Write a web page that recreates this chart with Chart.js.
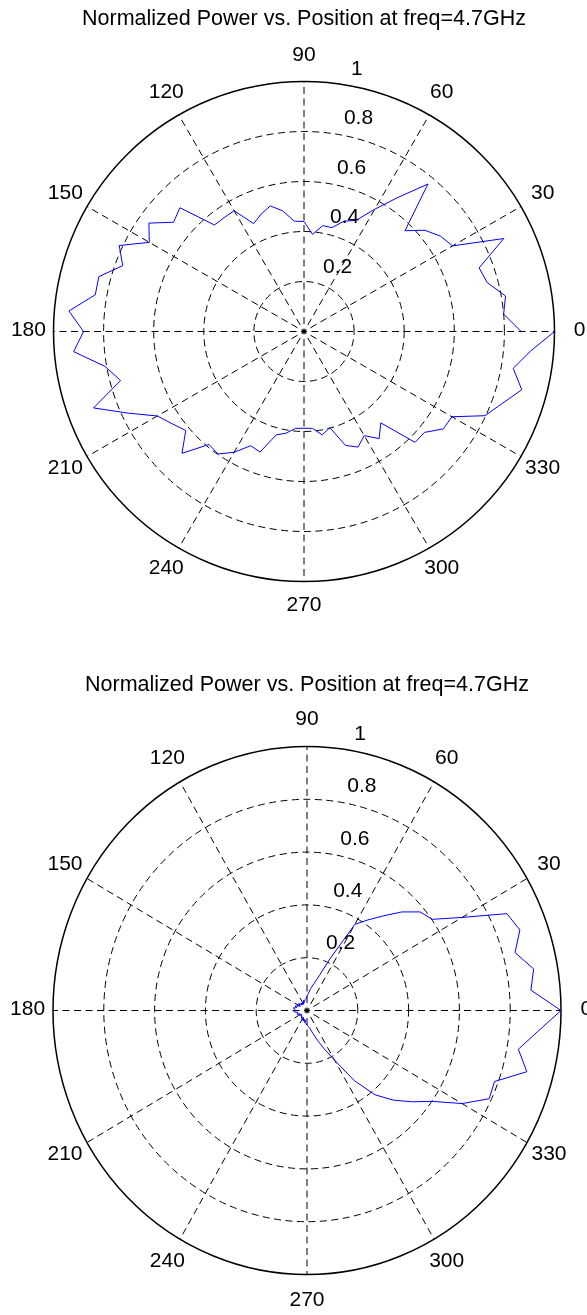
<!DOCTYPE html>
<html>
<head>
<meta charset="utf-8">
<script src="https://cdn.jsdelivr.net/npm/chart.js@4"></script>
<style>
  body { margin: 0; background: #fff; }
  canvas { display: block; }
</style>
</head>
<body>
<canvas id="topPlot" width="587" height="660"></canvas>
<canvas id="bottomPlot" width="587" height="655"></canvas>
<script>
// measurement positions, degrees
const angles = [
  0, 5, 10, 15, 20, 25, 30, 35, 40, 45, 50, 55, 60, 65, 70, 75, 80, 85,
  90, 95, 100, 105, 110, 115, 120, 125, 130, 135, 140, 145, 150, 155, 160, 165, 170, 175,
  180, 185, 190, 195, 200, 205, 210, 215, 220, 225, 230, 235, 240, 245, 250, 255, 260, 265,
  270, 275, 280, 285, 290, 295, 300, 305, 310, 315, 320, 325, 330, 335, 340, 345, 350, 355, 360
];

// normalized power, first sweep
const topPower = [
  0.867, 0.800, 0.817, 0.757, 0.744, 0.880, 0.685, 0.665, 0.630, 0.570, 0.770, 0.655, 0.565, 0.490, 0.470, 0.430, 0.430, 0.390,
  0.440, 0.443, 0.490, 0.520, 0.500, 0.476, 0.558, 0.556, 0.556, 0.700, 0.680, 0.756, 0.713, 0.814, 0.770, 0.848, 0.846, 0.942,
  0.880, 0.923, 0.806, 0.758, 0.894, 0.773, 0.676, 0.643, 0.616, 0.689, 0.590, 0.598, 0.558, 0.504, 0.513, 0.428, 0.413, 0.389,
  0.387, 0.389, 0.420, 0.398, 0.485, 0.510, 0.481, 0.523, 0.477, 0.627, 0.628, 0.679, 0.682, 0.797, 0.842, 0.900, 0.848, 0.907, 1.000
];

// normalized power, second sweep
const bottomPower = [
  1.000, 0.885, 0.906, 0.848, 0.892, 0.868, 0.705, 0.602, 0.581, 0.528, 0.468, 0.419, 0.377, 0.220, 0.140, 0.105, 0.085, 0.065,
  0.055, 0.045, 0.042, 0.036, 0.040, 0.030, 0.034, 0.028, 0.036, 0.030, 0.042, 0.034, 0.045, 0.038, 0.050, 0.042, 0.055, 0.048,
  0.047, 0.052, 0.040, 0.036, 0.042, 0.030, 0.034, 0.026, 0.032, 0.028, 0.034, 0.033, 0.038, 0.032, 0.042, 0.036, 0.046, 0.050,
  0.055, 0.061, 0.070, 0.090, 0.120, 0.160, 0.217, 0.324, 0.417, 0.480, 0.538, 0.600, 0.705, 0.791, 0.786, 0.896, 0.845, 0.912, 1.000
];

const ringValues = [0.2, 0.4, 0.6, 0.8, 1];
const ringLabels = ['0.2', '0.4', '0.6', '0.8', '1'];
const spokeAngles = [0, 30, 60, 90, 120, 150, 180, 210, 240, 270, 300, 330];
const spokeLabels = ['0', '30', '60', '90', '120', '150', '180', '210', '240', '270', '300', '330'];
const plotTitle = 'Normalized Power vs. Position at freq=4.7GHz';

const FONT = "'Liberation Sans', Arial, sans-serif";
const DEG = Math.PI / 180;

function toXY(deg, r) {
  return { x: r * Math.cos(deg * DEG), y: r * Math.sin(deg * DEG) };
}

// MATLAB-style polar frame: dashed rings and spokes, solid rim, labels
const polarFrame = {
  id: 'polarFrame',
  beforeDatasetsDraw(chart) {
    const { ctx, scales: { x, y } } = chart;
    const cx = x.getPixelForValue(0), cy = y.getPixelForValue(0);
    const rx = x.getPixelForValue(1) - cx, ry = cy - y.getPixelForValue(1);
    ctx.save();
    ctx.strokeStyle = '#000';
    ctx.lineWidth = 1;
    ctx.setLineDash([7, 4.5]);
    ringValues.slice(0, -1).forEach(v => {
      ctx.beginPath();
      ctx.ellipse(cx, cy, rx * v, ry * v, 0, 0, -2 * Math.PI, true);
      ctx.stroke();
    });
    ctx.lineDashOffset = 4;
    spokeAngles.forEach(a => {
      ctx.beginPath();
      ctx.moveTo(cx, cy);
      ctx.lineTo(x.getPixelForValue(Math.cos(a * DEG)), y.getPixelForValue(Math.sin(a * DEG)));
      ctx.stroke();
    });
    ctx.setLineDash([]);
    ctx.lineWidth = 1.5;
    ctx.beginPath();
    ctx.ellipse(cx, cy, rx, ry, 0, 0, 2 * Math.PI);
    ctx.stroke();
    ctx.restore();
  },
  afterDraw(chart, args, opts) {
    const { ctx, scales: { x, y } } = chart;
    const cx = x.getPixelForValue(0);
    ctx.save();
    ctx.fillStyle = '#000';
    ctx.font = '21px ' + FONT;

    // angle labels at 1.1 * rmax
    ctx.textAlign = 'center';
    ctx.textBaseline = 'middle';
    spokeAngles.forEach((a, i) => {
      const px = x.getPixelForValue(1.1 * Math.cos(a * DEG));
      const py = y.getPixelForValue(1.1 * Math.sin(a * DEG));
      ctx.fillText(spokeLabels[i], px, py - 1);
    });

    // ring labels along the 82 degree ray
    ctx.textAlign = 'left';
    ctx.textBaseline = 'alphabetic';
    ringValues.forEach((v, i) => {
      const r = v + 0.01;
      const px = x.getPixelForValue(r * Math.cos(82 * DEG));
      const py = y.getPixelForValue(r * Math.sin(82 * DEG));
      ctx.fillText('  ' + ringLabels[i], px, py - 6.5);
    });

    ctx.font = '21.5px ' + FONT;
    ctx.textAlign = 'center';
    ctx.fillText(plotTitle, cx, opts.titleY);
    ctx.restore();
  }
};

function makePlot(id, power, padding, titleY) {
  return new Chart(document.getElementById(id), {
    type: 'scatter',
    data: {
      datasets: [{
        data: angles.map((a, i) => toXY(a, power[i])),
        showLine: true,
        borderColor: '#0000ff',
        borderWidth: 1,
        pointRadius: 0,
        tension: 0,
        clip: false
      }]
    },
    options: {
      responsive: false,
      animation: false,
      devicePixelRatio: 1,
      layout: { padding: padding },
      scales: {
        x: { type: 'linear', min: -1, max: 1, display: false },
        y: { type: 'linear', min: -1, max: 1, display: false }
      },
      plugins: {
        legend: { display: false },
        tooltip: { enabled: false },
        polarFrame: { titleY: titleY }
      }
    },
    plugins: [polarFrame]
  });
}

makePlot('topPlot', topPower, { left: 53.5, right: 32.5, top: 81.5, bottom: 78.5 }, 25);
makePlot('bottomPlot', bottomPower, { left: 53, right: 26, top: 86.5, bottom: 40.5 }, 31);
</script>
</body>
</html>
